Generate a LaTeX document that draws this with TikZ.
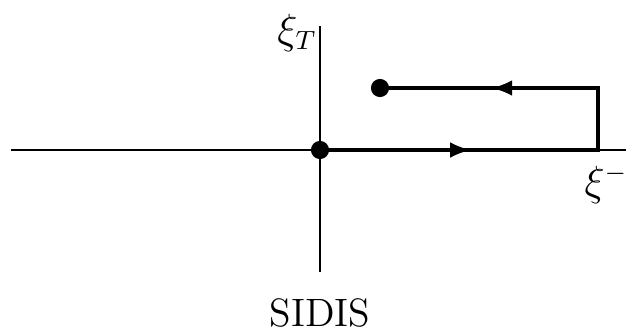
\documentclass[tikz,border=0pt]{standalone}
\usepackage{amsmath}
\usetikzlibrary{arrows,decorations.markings,calc}

\begin{document}
\begin{tikzpicture}[x=0.012cm,y=-0.012cm,
  axis/.style={semithick},
  lbl/.style={font=\fontsize{13.5pt}{16pt}\selectfont},
  link/.style={line width=1.4pt,
    postaction={decorate,decoration={markings,
      mark=at position 0.27 with {\arrow{latex}},
      mark=at position 0.80 with {\arrow{latex}}}}},
  dot/.style={circle,fill,inner sep=0pt,minimum size=6.2pt}]
  \useasboundingbox (0,0) rectangle (626,330);
  % axes
  \coordinate (W) at (11,150);
  \coordinate (E) at (626,150);
  \coordinate (S) at (320,272);
  \coordinate (N) at (320,26);
  \draw [axis] (W) -- (E);
  \draw [axis] (S) -- (N);
  % labels
  \node [lbl] (xiT) at (297,33) {$\xi_T$};
  \node [lbl] (xim) at (606,184) {$\xi^-$};
  \node [lbl] (lab) at (320,313) {SIDIS};
  % staple link
  \node [dot] (O) at (320,150) {};
  \node [dot] (P) at (380,88) {};
  \coordinate (C1) at (598,150);
  \coordinate (C2) at (598,88);
  \draw [link] (O.center) -- (C1) -- (C2) -- (P.center);
\end{tikzpicture}
\end{document}
